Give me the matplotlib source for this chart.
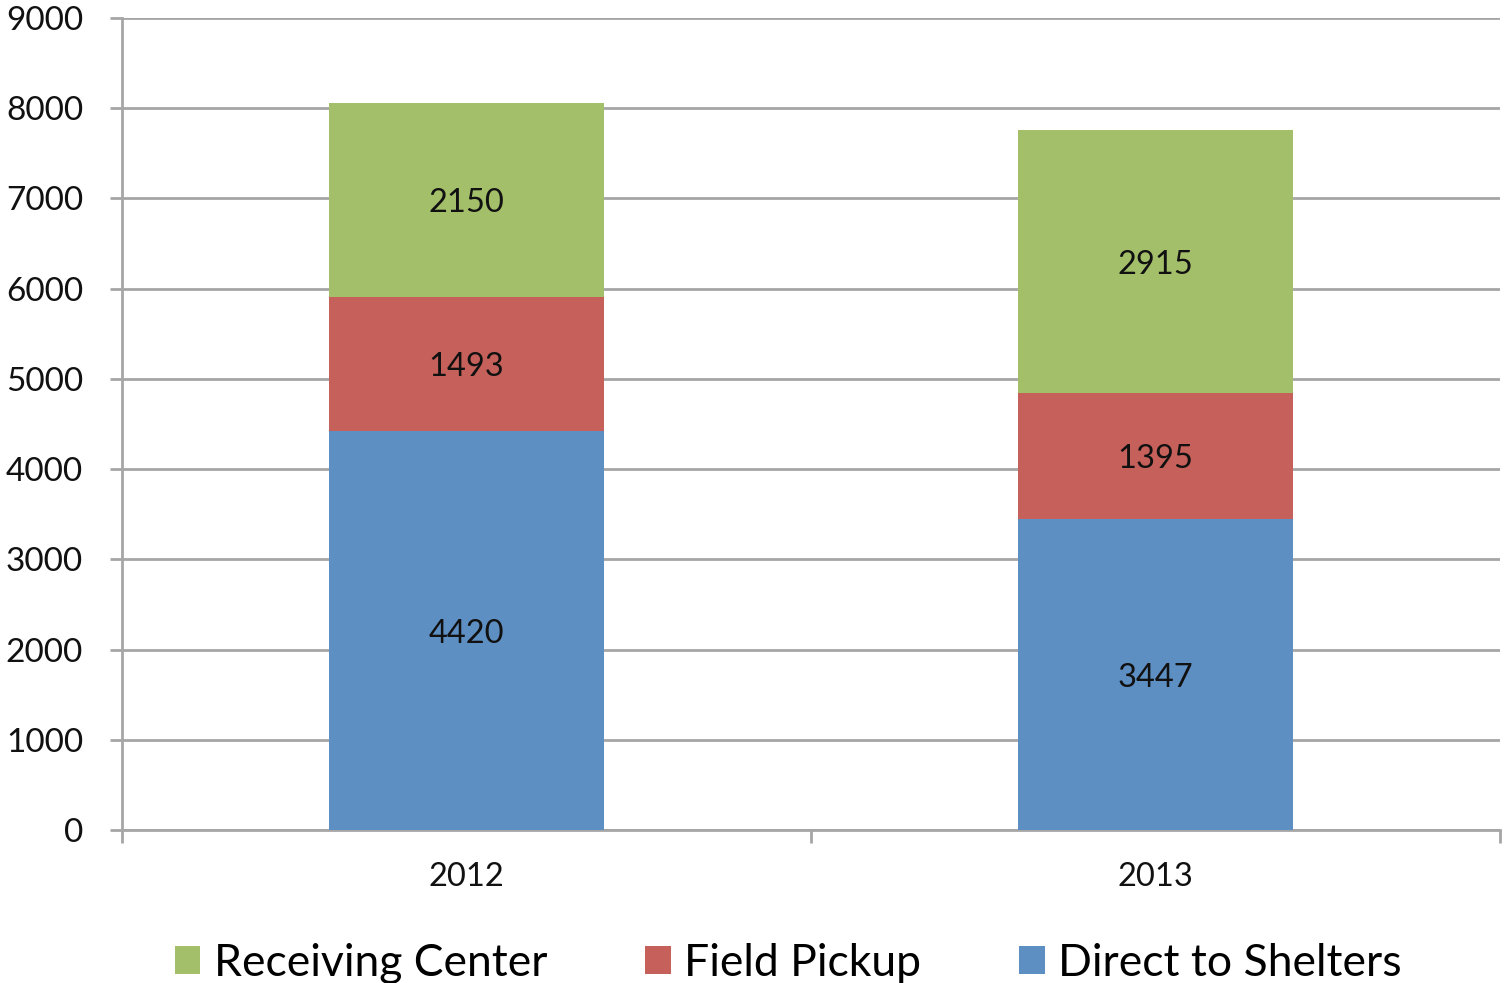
import matplotlib
matplotlib.use("Agg")
import matplotlib.pyplot as plt
import numpy as np

years = ["2012", "2013"]
direct = [4420, 3447]
field = [1493, 1395]
receiving = [2150, 2915]
yticks = [0, 1000, 2000, 3000, 4000, 5000, 6000, 7000, 8000, 9000]

c_blue = "#5E8FC3"
c_red = "#C5605A"
c_green = "#A3BF6A"
grid_c = "#A6A6A6"

plt.rcParams['font.family'] = ['Lato', 'DejaVu Sans']

fig = plt.figure(figsize=(15.04, 9.83), dpi=100)
ax = fig.add_axes([0.0811, 0.1556, 0.9162, 0.8261])

x = np.arange(len(years))
w = 0.4
b1 = ax.bar(x, direct, w, color=c_blue, label="Direct to Shelters", zorder=3)
b2 = ax.bar(x, field, w, bottom=direct, color=c_red, label="Field Pickup", zorder=3)
bottom3 = np.array(direct) + np.array(field)
b3 = ax.bar(x, receiving, w, bottom=bottom3, color=c_green, label="Receiving Center", zorder=3)

for bars, vals, bots in [(b1, direct, [0, 0]), (b2, field, direct), (b3, receiving, bottom3)]:
    for xi, v, b in zip(x, vals, bots):
        ax.text(xi, b + v / 2, str(v), ha="center", va="center_baseline", fontsize=23.5,
                color="#111111", zorder=4)

ax.set_xlim(-0.5, 1.5)
ax.set_ylim(0, 9000)
ax.set_yticks(yticks)
ax.set_yticklabels([str(t) for t in yticks])
ax.set_xticks(x)
ax.set_xticklabels(years)
ax.set_xticks([-0.5, 0.5, 1.5], minor=True)

ax.grid(axis="y", color=grid_c, linewidth=2, zorder=0)
ax.set_axisbelow(True)

for s in ["top", "right"]:
    ax.spines[s].set_visible(False)
for s in ["left", "bottom"]:
    ax.spines[s].set_color(grid_c)
    ax.spines[s].set_linewidth(2)

ax.tick_params(axis="y", length=9, width=2, color=grid_c, labelsize=24, pad=19, labelcolor="#111111")
ax.tick_params(axis="x", which="major", length=0, labelsize=23.5, pad=23, labelcolor="#111111")
ax.tick_params(axis="x", which="minor", length=9, width=2, color=grid_c)

handles = [b3, b2, b1]
leg = fig.legend(handles, [h.get_label() for h in handles], loc="center", bbox_to_anchor=(0.524, 0.02),
                 ncol=3, frameon=False, fontsize=32, handlelength=0.58, handleheight=0.58,
                 handletextpad=0.3, columnspacing=2.2, borderpad=0)

fig.savefig("out.png", dpi=100)
